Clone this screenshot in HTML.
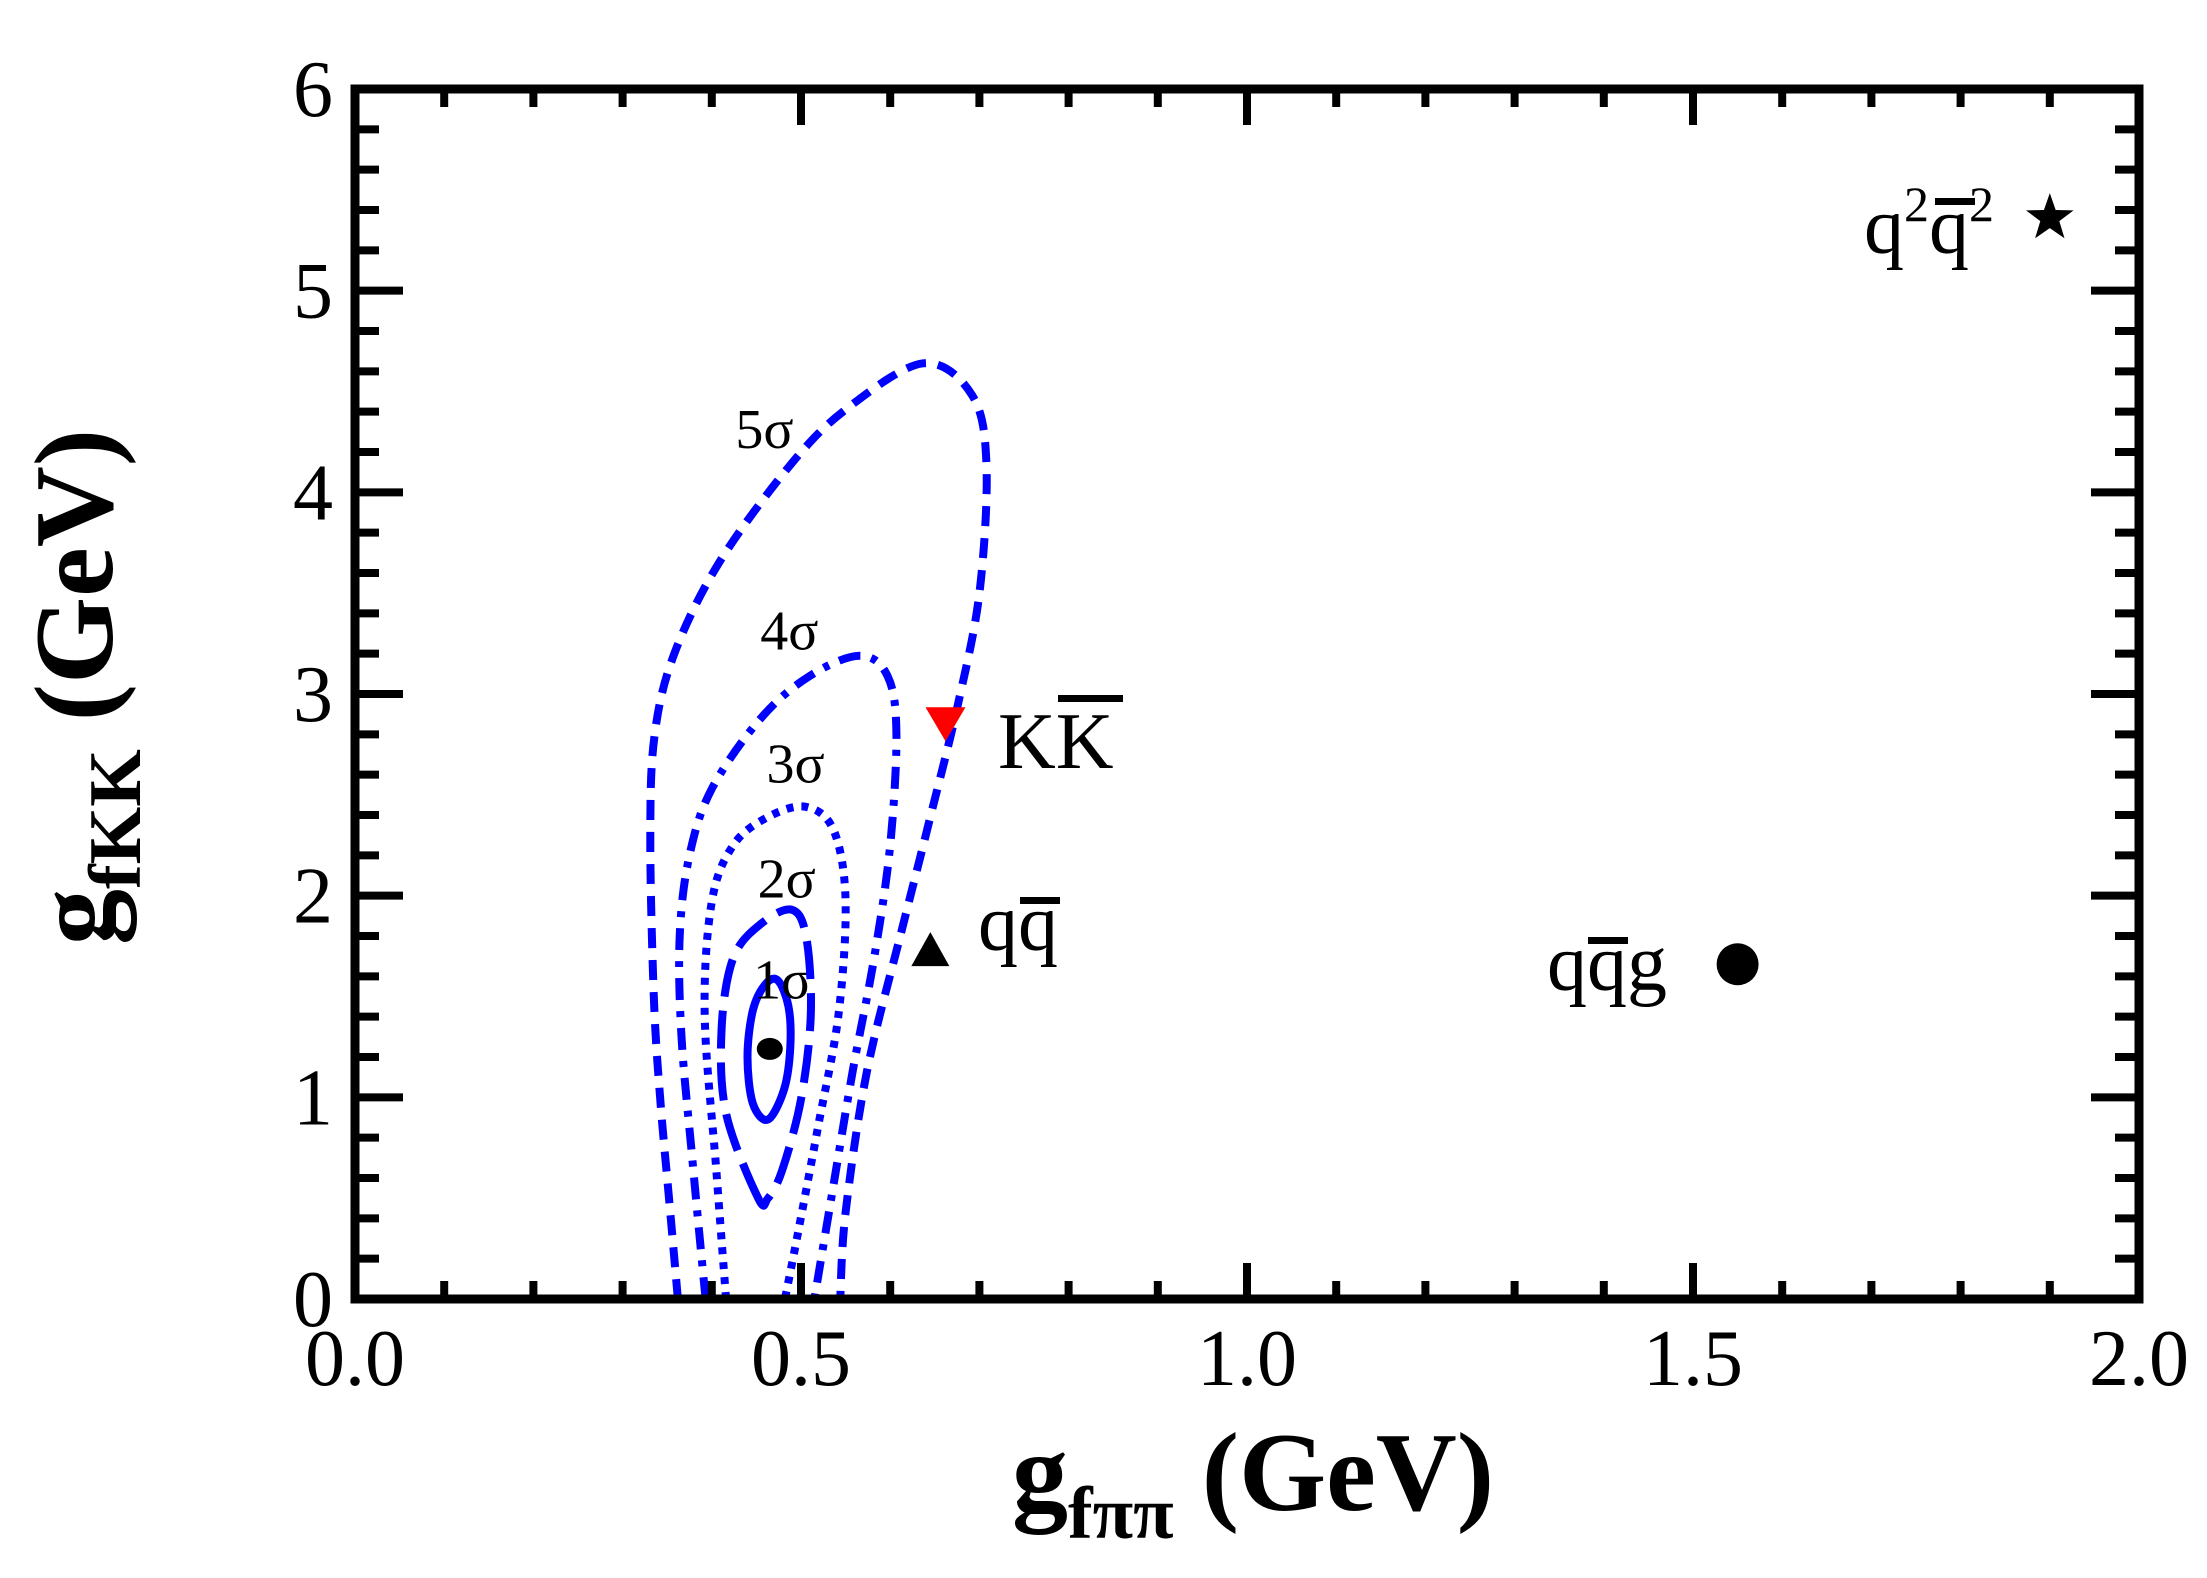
<!DOCTYPE html>
<html><head><meta charset="utf-8"><style>
html,body{margin:0;padding:0;background:#fff;}
svg{display:block;font-family:"Liberation Serif","DejaVu Serif",serif;}
</style></head><body>
<svg id="chart" width="2207" height="1578" viewBox="0 0 2207 1578" xmlns="http://www.w3.org/2000/svg">
<g id="contours"></g>
<g id="markers"></g>
<g id="axes"></g>
<g id="labels"></g>
</svg>
<script>
const xTicks = [0.0, 0.5, 1.0, 1.5, 2.0];
const xTickLabels = ["0.0", "0.5", "1.0", "1.5", "2.0"];
const yTicks = [0, 1, 2, 3, 4, 5, 6];
const yTickLabels = ["0", "1", "2", "3", "4", "5", "6"];
const sigmaNames = ["1σ", "2σ", "3σ", "4σ", "5σ"];
const c5x = [0.362,0.352,0.342,0.335,0.331,0.336,0.358,0.408,0.487,0.55,0.637,0.692,0.708,0.70,0.676,0.645,0.613,0.574,0.55,0.544];
const c5y = [0,0.5,1.0,1.5,2.3,2.8,3.2,3.65,4.13,4.41,4.64,4.48,4.13,3.5,2.95,2.39,1.83,1.13,0.43,0];
const c4x = [0.393,0.378,0.366,0.364,0.375,0.40,0.455,0.51,0.566,0.597,0.607,0.60,0.582,0.558,0.534,0.515];
const c4y = [0,0.7,1.3,1.8,2.2,2.53,2.88,3.09,3.19,3.09,2.81,2.25,1.69,1.13,0.5,0];
const c3x = [0.416,0.405,0.392,0.40,0.424,0.463,0.506,0.537,0.55,0.542,0.519,0.495,0.482];
const c3y = [0,0.64,1.41,1.97,2.25,2.39,2.44,2.32,1.97,1.41,0.85,0.29,0];
const c2x = [0.452,0.416,0.411,0.424,0.455,0.49,0.506,0.511,0.50,0.479,0.463];
const c2y = [0.5,0.92,1.34,1.69,1.86,1.93,1.79,1.41,0.99,0.64,0.5];
const c1x = [0.474,0.486,0.488,0.481,0.463,0.446,0.440,0.446,0.460];
const c1y = [1.58,1.45,1.25,1.04,0.89,0.97,1.20,1.43,1.56];
const labelX = [0.479, 0.484, 0.494, 0.487, 0.459];
const labelY = [1.49, 1.99, 2.56, 3.22, 4.22];
const ptNames = ["best-fit", "qqbar", "kkbar", "qqbarg", "tetraquark"];
const ptX = [0.465, 0.645, 0.662, 1.55, 1.9];
const ptY = [1.24, 1.73, 2.85, 1.66, 5.36];

const L=355,R=2139,T=89,B=1299;
const sx=v=>L+(v-0)/(2-0)*(R-L);
const sy=v=>B-(v-0)/(6-0)*(B-T);
const NS="http://www.w3.org/2000/svg";
function mk(tag,parent,attrs){const e=document.createElementNS(NS,tag);for(const k in attrs)e.setAttribute(k,attrs[k]);parent.appendChild(e);return e;}
function smooth(xs,ys,closed){
  const p=xs.map((x,i)=>[sx(x),sy(ys[i])]);const n=p.length;
  let d="M"+p[0][0].toFixed(1)+","+p[0][1].toFixed(1);
  const g=i=>closed?p[(i+n)%n]:p[Math.max(0,Math.min(n-1,i))];
  const segs=closed?n:n-1;
  for(let i=0;i<segs;i++){const p0=g(i-1),p1=g(i),p2=g(i+1),p3=g(i+2);
    const c1=[p1[0]+(p2[0]-p0[0])/6,p1[1]+(p2[1]-p0[1])/6],c2=[p2[0]-(p3[0]-p1[0])/6,p2[1]-(p3[1]-p1[1])/6];
    d+=` C${c1[0].toFixed(1)},${c1[1].toFixed(1)} ${c2[0].toFixed(1)},${c2[1].toFixed(1)} ${p2[0].toFixed(1)},${p2[1].toFixed(1)}`;}
  return d+(closed?"Z":"");
}
const cg=document.getElementById('contours');
const cs=[[c1x,c1y,true,"none"],[c2x,c2y,true,"38 14"],[c3x,c3y,false,"7 8"],[c4x,c4y,false,"22 11 6 11"],[c5x,c5y,false,"20 12"]];
cs.forEach((c,i)=>{
  const p=mk('path',cg,{d:smooth(c[0],c[1],c[2]),fill:"none",stroke:"#0000ff","stroke-width":8,"stroke-dasharray":c[3]});
  
  
  const t=mk('text',cg,{x:sx(labelX[i]),y:sy(labelY[i]),"font-size":56,"text-anchor":"middle",fill:"#000"});
  t.textContent=sigmaNames[i];
  
  
});
const mg=document.getElementById('markers');
function pt(i){return [sx(ptX[i]),sy(ptY[i])];}
let [x,y]=pt(0);
let m=mk('ellipse',mg,{cx:x,cy:y,rx:13,ry:11,fill:"#000"});


[x,y]=pt(1);
m=mk('polygon',mg,{points:`${x-19},${y+16} ${x+19},${y+16} ${x},${y-18}`,fill:"#000"});


[x,y]=pt(2);
m=mk('polygon',mg,{points:`${x-20},${y-17} ${x+20},${y-17} ${x},${y+17}`,fill:"#ff0000"});


[x,y]=pt(3);
m=mk('circle',mg,{cx:x,cy:y,r:21,fill:"#000"});


[x,y]=pt(4);
{let s="";for(let k=0;k<10;k++){const a=-Math.PI/2+k*Math.PI/5,r=k%2?10:25;s+=`${x+r*Math.cos(a)},${y+r*Math.sin(a)} `;}
m=mk('polygon',mg,{points:s,fill:"#000"});}



const ag=document.getElementById('axes');
m=mk('rect',ag,{x:L,y:T,width:R-L,height:B-T,fill:"none",stroke:"#000","stroke-width":9});


for(let k=0;k<=20;k++){const v=k*0.1,X=sx(v),len=(k%5==0)?36:18;
  mk('line',ag,{x1:X,y1:B,x2:X,y2:B-len,stroke:"#000","stroke-width":8});
  mk('line',ag,{x1:X,y1:T,x2:X,y2:T+len,stroke:"#000","stroke-width":8});}
for(let k=0;k<=30;k++){const v=k*0.2,Y=sy(v),len=(k%5==0)?48:24;
  mk('line',ag,{x1:L,y1:Y,x2:L+len,y2:Y,stroke:"#000","stroke-width":8});
  mk('line',ag,{x1:R,y1:Y,x2:R-len,y2:Y,stroke:"#000","stroke-width":8});}
xTicks.forEach((v,i)=>{const t=mk('text',ag,{x:sx(v),y:1385,"font-size":80,"text-anchor":"middle"});t.textContent=xTickLabels[i];
  
  });
yTicks.forEach((v,i)=>{const t=mk('text',ag,{x:333,y:sy(v)+27,"font-size":80,"text-anchor":"end"});t.textContent=yTickLabels[i];
  
  });
</script>
<svg style="position:absolute;left:0;top:0" width="2207" height="1578" viewBox="0 0 2207 1578">
<g font-family="'Liberation Serif','DejaVu Serif',serif" fill="#000">
<text x="998" y="768" font-size="80">K<tspan>K</tspan></text>
<rect x="1058" y="695" width="65" height="7"/>
<text x="978" y="950" font-size="80">qq</text>
<rect x="1020" y="897" width="40" height="7"/>
<text x="1547" y="990" font-size="80">qqg</text>
<rect x="1588" y="937" width="40" height="7"/>
<text x="1864" y="253" font-size="80">q<tspan font-size="50" dy="-32">2</tspan><tspan dy="32">q</tspan><tspan font-size="50" dy="-32">2</tspan></text>
<rect x="1935" y="198" width="40" height="7"/>
<text x="1012" y="1510" font-size="112" font-weight="bold">g<tspan font-size="74" dy="28">fππ</tspan><tspan dy="-28"> (GeV)</tspan></text>
<text transform="translate(112,945) rotate(-90)" font-size="112" font-weight="bold">g<tspan font-size="74" dy="28">fKK</tspan><tspan dy="-28"> (GeV)</tspan></text>
</g></svg>
</body></html>
